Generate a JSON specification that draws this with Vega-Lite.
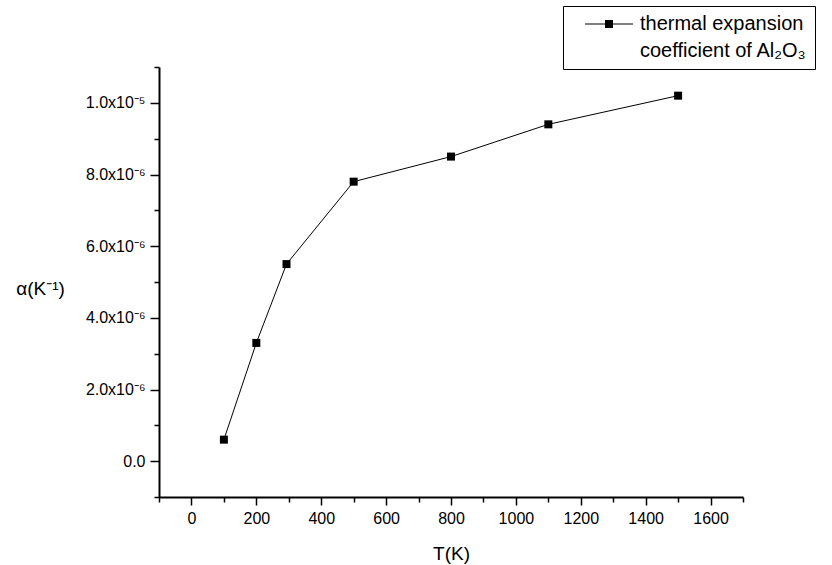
{
  "$schema": "https://vega.github.io/schema/vega-lite/v6.json",
  "width": 584,
  "height": 430,
  "autosize": {"type": "none"},
  "padding": {"left": 159, "top": 67, "right": 89, "bottom": 68},
  "background": "white",
  "config": {"view": {"stroke": null}, "font": "Liberation Sans"},
  "data": {"values": [
    {"T": 100, "alpha": 0.6e-6},
    {"T": 200, "alpha": 3.3e-6},
    {"T": 293, "alpha": 5.5e-6},
    {"T": 500, "alpha": 7.8e-6},
    {"T": 800, "alpha": 8.5e-6},
    {"T": 1100, "alpha": 9.4e-6},
    {"T": 1500, "alpha": 10.2e-6}
  ]},
  "encoding": {
    "x": {"field": "T", "type": "quantitative",
      "scale": {"domain": [-100, 1700], "nice": false, "zero": false},
      "axis": {
        "values": [-100, 0, 100, 200, 300, 400, 500, 600, 700, 800, 900, 1000, 1100, 1200, 1300, 1400, 1500, 1600, 1700],
        "title": "T(K)", "grid": false,
        "domainColor": "black", "domainWidth": 2,
        "tickColor": "black", "tickWidth": 1.5,
        "tickSize": {"condition": {"test": "datum.value % 200 == 0", "value": 8}, "value": 5},
        "labelExpr": "(datum.value % 200 == 0 && datum.value >= 0 && datum.value <= 1600) ? ('' + datum.value) : ''",
        "labelOverlap": false, "labelFlush": false,
        "labelFontSize": 16, "labelColor": "black", "labelPadding": 5,
        "titleFontSize": 19, "titleFontWeight": "normal", "titleColor": "black",
        "titleY": 62, "titleBaseline": "alphabetic"
      }
    },
    "y": {"field": "alpha", "type": "quantitative",
      "scale": {"domain": [-1e-6, 1.1e-5], "nice": false, "zero": false},
      "axis": {
        "values": [-1e-6, 0, 1e-6, 2e-6, 3e-6, 4e-6, 5e-6, 6e-6, 7e-6, 8e-6, 9e-6, 1e-5, 1.1e-5],
        "title": "α(K⁻¹)", "grid": false,
        "domainColor": "black", "domainWidth": 2,
        "tickColor": "black", "tickWidth": 1.5,
        "tickSize": {"condition": {"test": "round(datum.value*1e6) % 2 == 0", "value": 9}, "value": 5},
        "labelExpr": "round(datum.value*1e6) == 0 ? '0.0' : round(datum.value*1e6) == 10 ? '1.0x10⁻⁵' : (round(datum.value*1e6) % 2 == 0 && round(datum.value*1e6) > 0 && round(datum.value*1e6) < 10) ? (round(datum.value*1e6) + '.0x10⁻⁶') : ''",
        "labelOverlap": false, "labelFlush": false,
        "labelFontSize": 16, "labelColor": "black", "labelPadding": 5,
        "titleFontSize": 19, "titleFontWeight": "normal", "titleColor": "black",
        "titleAngle": 0, "titleX": -119, "titleY": 221, "titleAlign": "center", "titleBaseline": "middle"
      }
    }
  },
  "layer": [
    {"mark": {"type": "line", "color": "black", "strokeWidth": 1}},
    {"mark": {"type": "point", "shape": "square", "filled": true, "size": 64, "opacity": 1},
     "encoding": {
       "color": {"datum": "thermal expansion coefficient of Al₂O₃",
         "scale": {"range": ["black"]},
         "legend": {
           "title": null, "orient": "none", "legendX": 404, "legendY": -61,
           "strokeColor": "black", "fillColor": "white", "padding": 8,
           "symbolType": "M-3,-0.0625H3V0.0625H-3Z M-0.5,-0.5H0.5V0.5H-0.5Z",
           "symbolSize": 256, "symbolOffset": 28, "symbolFillColor": "black", "symbolStrokeWidth": 0, "symbolOpacity": 1,
           "labelExpr": "['thermal expansion \u2009', 'coefficient of Al₂O₃ \u2009']",
           "labelAlign": "left", "labelBaseline": "middle",
           "labelFontSize": 20, "labelColor": "black", "labelLimit": 400, "labelOffset": 21,
           "encode": {"labels": {"update": {"lineHeight": {"value": 27}}}}
         }
       }
     }
    }
  ]
}
